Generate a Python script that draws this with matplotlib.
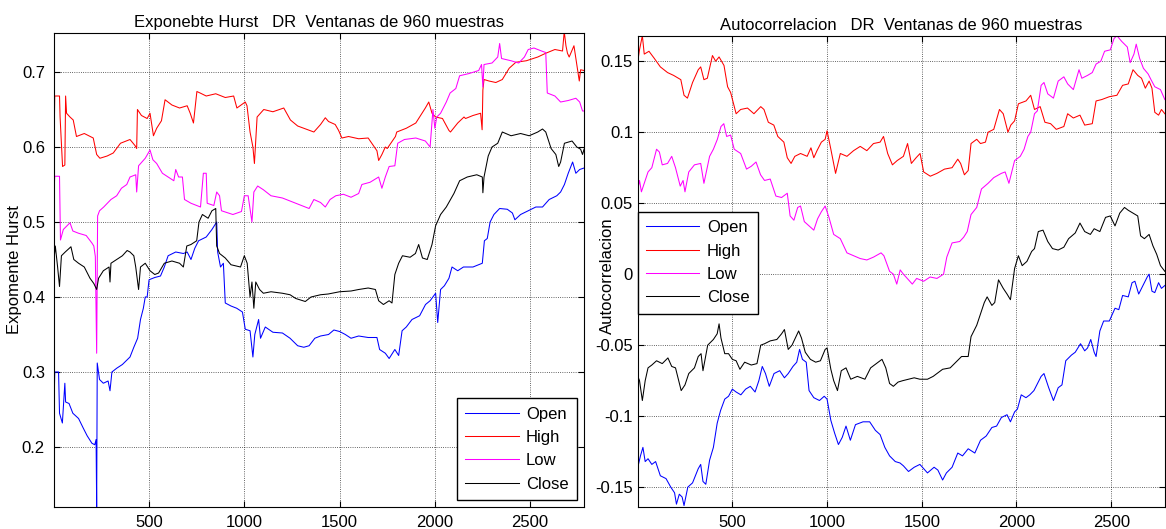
import matplotlib
matplotlib.use('Agg')
import matplotlib.pyplot as plt
from matplotlib.ticker import FuncFormatter

plt.rcParams['font.family'] = ['Liberation Sans', 'DejaVu Sans']
plt.rcParams['font.size'] = 12

# Exponente de Hurst (muestra, valor)
hurst_open = [(1, 0.25), (5, 0.30), (25, 0.30), (30, 0.245), (45, 0.232), (58, 0.285), (62, 0.26), (80, 0.258),
              (100, 0.245), (130, 0.238), (155, 0.225), (175, 0.215), (200, 0.205), (215, 0.203), (222, 0.21),
              (225, 0.12), (228, 0.312), (240, 0.29), (260, 0.285), (285, 0.288), (295, 0.275), (305, 0.30),
              (330, 0.305), (360, 0.31), (380, 0.315), (400, 0.32), (420, 0.333), (440, 0.345), (455, 0.37),
              (470, 0.385), (480, 0.40), (490, 0.40), (500, 0.423), (530, 0.426), (560, 0.428), (580, 0.44),
              (600, 0.455), (640, 0.46), (680, 0.458), (700, 0.46), (720, 0.45), (740, 0.465), (760, 0.475),
              (800, 0.48), (830, 0.49), (855, 0.50), (860, 0.46), (875, 0.44), (890, 0.445), (900, 0.392),
              (930, 0.388), (960, 0.385), (990, 0.38), (1005, 0.357), (1030, 0.355), (1045, 0.32), (1055, 0.35),
              (1075, 0.37), (1085, 0.345), (1110, 0.36), (1150, 0.353), (1200, 0.352), (1240, 0.345),
              (1280, 0.335), (1312, 0.333), (1340, 0.335), (1370, 0.345), (1400, 0.348), (1442, 0.35),
              (1470, 0.356), (1500, 0.354), (1530, 0.35), (1560, 0.345), (1600, 0.348), (1650, 0.346),
              (1696, 0.346), (1710, 0.33), (1740, 0.325), (1760, 0.318), (1790, 0.33), (1810, 0.322),
              (1828, 0.355), (1850, 0.36), (1880, 0.37), (1920, 0.375), (1951, 0.39), (1975, 0.395),
              (2004, 0.405), (2015, 0.366), (2030, 0.41), (2050, 0.415), (2074, 0.425), (2090, 0.44),
              (2120, 0.435), (2150, 0.44), (2200, 0.44), (2249, 0.445), (2260, 0.475), (2275, 0.478),
              (2290, 0.50), (2310, 0.51), (2340, 0.518), (2380, 0.517), (2407, 0.512), (2420, 0.503),
              (2450, 0.51), (2490, 0.515), (2530, 0.52), (2565, 0.52), (2600, 0.53), (2640, 0.535),
              (2660, 0.54), (2680, 0.55), (2700, 0.565), (2723, 0.58), (2740, 0.565), (2760, 0.57), (2783, 0.572)]

hurst_high = [(1, 0.60), (5, 0.668), (30, 0.668), (33, 0.64), (46, 0.574), (58, 0.576), (62, 0.668), (67, 0.645),
              (85, 0.64), (102, 0.636), (119, 0.614), (160, 0.618), (207, 0.612), (225, 0.59), (242, 0.585),
              (280, 0.588), (312, 0.592), (350, 0.605), (400, 0.61), (426, 0.602), (435, 0.598), (439, 0.65),
              (460, 0.642), (490, 0.638), (505, 0.645), (523, 0.615), (540, 0.625), (565, 0.635), (584, 0.663),
              (620, 0.656), (660, 0.652), (700, 0.655), (716, 0.645), (733, 0.632), (751, 0.674), (768, 0.672),
              (800, 0.668), (850, 0.671), (900, 0.666), (944, 0.668), (961, 0.652), (1005, 0.66), (1014, 0.655),
              (1030, 0.62), (1045, 0.60), (1053, 0.578), (1067, 0.64), (1102, 0.65), (1150, 0.647),
              (1207, 0.652), (1242, 0.636), (1280, 0.628), (1312, 0.625), (1365, 0.62), (1400, 0.63),
              (1425, 0.639), (1442, 0.634), (1477, 0.63), (1495, 0.622), (1512, 0.612), (1547, 0.614),
              (1600, 0.611), (1650, 0.612), (1696, 0.595), (1705, 0.582), (1722, 0.59), (1740, 0.60),
              (1750, 0.598), (1793, 0.614), (1800, 0.62), (1850, 0.625), (1900, 0.632), (1950, 0.652),
              (1968, 0.66), (1985, 0.645), (2004, 0.64), (2040, 0.638), (2074, 0.622), (2082, 0.62),
              (2120, 0.632), (2153, 0.64), (2161, 0.638), (2200, 0.642), (2240, 0.645), (2248, 0.623),
              (2252, 0.676), (2258, 0.69), (2284, 0.688), (2320, 0.686), (2354, 0.69), (2390, 0.705),
              (2425, 0.713), (2480, 0.715), (2540, 0.72), (2582, 0.725), (2630, 0.73), (2670, 0.728),
              (2679, 0.754), (2688, 0.735), (2696, 0.725), (2705, 0.72), (2730, 0.735), (2758, 0.688),
              (2765, 0.703), (2783, 0.702)]

hurst_low = [(1, 0.539), (5, 0.561), (30, 0.561), (35, 0.476), (50, 0.49), (85, 0.499), (100, 0.488), (130, 0.485),
             (170, 0.482), (200, 0.472), (210, 0.468), (218, 0.454), (225, 0.325), (230, 0.508), (240, 0.515),
             (262, 0.52), (300, 0.53), (330, 0.535), (355, 0.545), (383, 0.55), (400, 0.56), (430, 0.563),
             (435, 0.54), (445, 0.575), (480, 0.585), (505, 0.596), (520, 0.583), (540, 0.578), (570, 0.565),
             (600, 0.56), (630, 0.555), (640, 0.57), (655, 0.56), (675, 0.56), (686, 0.53), (720, 0.525),
             (770, 0.52), (785, 0.565), (800, 0.565), (805, 0.525), (840, 0.522), (855, 0.54), (870, 0.535),
             (880, 0.515), (940, 0.51), (985, 0.514), (1000, 0.535), (1020, 0.535), (1040, 0.50), (1050, 0.54),
             (1070, 0.548), (1100, 0.543), (1140, 0.535), (1200, 0.532), (1240, 0.528), (1300, 0.522),
             (1340, 0.518), (1365, 0.53), (1400, 0.526), (1425, 0.52), (1450, 0.53), (1480, 0.535),
             (1520, 0.537), (1560, 0.533), (1600, 0.538), (1617, 0.55), (1660, 0.553), (1705, 0.56),
             (1722, 0.545), (1740, 0.56), (1760, 0.574), (1790, 0.575), (1805, 0.605), (1840, 0.61),
             (1900, 0.612), (1950, 0.608), (1975, 0.60), (1990, 0.65), (2000, 0.625), (2010, 0.64),
             (2030, 0.645), (2060, 0.66), (2080, 0.672), (2110, 0.678), (2130, 0.695), (2180, 0.698),
             (2230, 0.702), (2245, 0.71), (2252, 0.68), (2258, 0.71), (2300, 0.712), (2330, 0.72),
             (2340, 0.738), (2350, 0.718), (2400, 0.715), (2440, 0.712), (2470, 0.72), (2490, 0.73),
             (2520, 0.732), (2560, 0.728), (2582, 0.726), (2590, 0.672), (2630, 0.668), (2660, 0.66),
             (2700, 0.662), (2740, 0.665), (2760, 0.66), (2775, 0.648), (2783, 0.648)]

hurst_close = [(1, 0.45), (8, 0.468), (20, 0.44), (30, 0.414), (40, 0.455), (60, 0.46), (90, 0.467), (105, 0.45),
               (130, 0.445), (160, 0.44), (190, 0.425), (210, 0.418), (225, 0.41), (235, 0.425), (260, 0.435),
               (290, 0.44), (295, 0.42), (300, 0.445), (330, 0.45), (360, 0.455), (385, 0.462), (400, 0.46),
               (420, 0.455), (430, 0.44), (445, 0.41), (455, 0.44), (480, 0.445), (505, 0.435), (530, 0.43),
               (550, 0.432), (580, 0.445), (620, 0.448), (660, 0.445), (680, 0.44), (698, 0.468), (720, 0.47),
               (750, 0.475), (762, 0.50), (780, 0.51), (810, 0.505), (830, 0.515), (850, 0.518), (855, 0.468),
               (870, 0.458), (900, 0.452), (930, 0.443), (980, 0.44), (1000, 0.455), (1015, 0.445), (1030, 0.40),
               (1040, 0.42), (1050, 0.385), (1060, 0.42), (1080, 0.41), (1100, 0.405), (1140, 0.407),
               (1200, 0.405), (1240, 0.403), (1270, 0.398), (1320, 0.394), (1350, 0.40), (1400, 0.403),
               (1440, 0.404), (1500, 0.407), (1560, 0.408), (1600, 0.41), (1650, 0.412), (1688, 0.41),
               (1705, 0.395), (1730, 0.39), (1760, 0.395), (1775, 0.392), (1790, 0.43), (1810, 0.445),
               (1830, 0.455), (1870, 0.453), (1898, 0.458), (1915, 0.47), (1935, 0.452), (1960, 0.45),
               (1985, 0.47), (2004, 0.495), (2030, 0.51), (2060, 0.52), (2100, 0.538), (2130, 0.555),
               (2170, 0.56), (2220, 0.563), (2249, 0.56), (2252, 0.539), (2258, 0.56), (2280, 0.588),
               (2300, 0.60), (2330, 0.605), (2354, 0.62), (2400, 0.615), (2450, 0.618), (2495, 0.615),
               (2540, 0.62), (2565, 0.624), (2582, 0.62), (2610, 0.598), (2635, 0.59), (2650, 0.574),
               (2660, 0.58), (2680, 0.605), (2720, 0.608), (2745, 0.60), (2765, 0.597), (2775, 0.59), (2783, 0.597)]

# Autocorrelacion (muestra, valor)
acf_open = [(1, -0.136), (15, -0.128), (28, -0.122), (40, -0.132), (55, -0.13), (75, -0.134), (95, -0.132),
            (120, -0.142), (150, -0.144), (175, -0.15), (195, -0.154), (205, -0.162), (220, -0.155), (235, -0.157),
            (245, -0.163), (265, -0.15), (290, -0.147), (320, -0.137), (333, -0.134), (345, -0.146), (360, -0.148),
            (380, -0.131), (400, -0.122), (420, -0.105), (438, -0.096), (460, -0.088), (480, -0.086),
            (500, -0.081), (520, -0.083), (545, -0.085), (570, -0.081), (595, -0.079), (620, -0.083),
            (640, -0.075), (658, -0.065), (675, -0.07), (695, -0.079), (720, -0.07), (750, -0.068),
            (775, -0.073), (795, -0.07), (820, -0.065), (840, -0.062), (855, -0.053), (870, -0.06),
            (890, -0.062), (905, -0.082), (930, -0.087), (960, -0.089), (985, -0.086), (1000, -0.088),
            (1020, -0.103), (1040, -0.112), (1060, -0.12), (1080, -0.115), (1100, -0.107), (1123, -0.117),
            (1150, -0.106), (1190, -0.104), (1225, -0.104), (1255, -0.11), (1280, -0.113), (1305, -0.122),
            (1330, -0.128), (1360, -0.132), (1385, -0.133), (1403, -0.135), (1430, -0.139), (1460, -0.136),
            (1490, -0.134), (1530, -0.14), (1565, -0.136), (1585, -0.138), (1610, -0.145), (1630, -0.14),
            (1660, -0.136), (1690, -0.126), (1715, -0.128), (1745, -0.123), (1780, -0.126), (1810, -0.117),
            (1840, -0.114), (1870, -0.108), (1895, -0.107), (1920, -0.101), (1950, -0.099), (1968, -0.104),
            (1990, -0.097), (2005, -0.095), (2025, -0.085), (2050, -0.087), (2070, -0.085), (2092, -0.082),
            (2130, -0.072), (2145, -0.07), (2170, -0.08), (2195, -0.089), (2220, -0.08), (2240, -0.078),
            (2260, -0.061), (2290, -0.057), (2310, -0.055), (2338, -0.049), (2360, -0.054), (2375, -0.052),
            (2392, -0.046), (2410, -0.055), (2420, -0.058), (2440, -0.04), (2460, -0.033), (2490, -0.033),
            (2520, -0.024), (2540, -0.025), (2560, -0.015), (2590, -0.016), (2610, -0.006), (2625, -0.005),
            (2645, -0.014), (2660, -0.01), (2690, -0.002), (2700, 0.0), (2715, -0.012), (2730, -0.013),
            (2750, -0.006), (2765, -0.01), (2783, -0.008)]

acf_high = [(1, 0.15), (10, 0.158), (25, 0.168), (35, 0.155), (60, 0.157), (88, 0.152), (120, 0.146), (158, 0.142),
            (190, 0.14), (228, 0.137), (245, 0.126), (263, 0.124), (290, 0.135), (320, 0.144), (333, 0.146),
            (350, 0.137), (368, 0.138), (395, 0.154), (412, 0.15), (430, 0.153), (456, 0.147), (475, 0.132),
            (491, 0.128), (520, 0.113), (544, 0.116), (580, 0.117), (614, 0.113), (650, 0.118), (667, 0.116),
            (690, 0.107), (719, 0.105), (740, 0.097), (772, 0.093), (790, 0.082), (810, 0.078), (830, 0.083),
            (860, 0.085), (895, 0.083), (915, 0.089), (930, 0.082), (947, 0.087), (970, 0.093), (990, 0.095),
            (1000, 0.101), (1020, 0.088), (1045, 0.071), (1070, 0.085), (1105, 0.083), (1140, 0.087),
            (1175, 0.09), (1210, 0.087), (1245, 0.092), (1280, 0.093), (1298, 0.097), (1320, 0.085),
            (1345, 0.077), (1370, 0.08), (1403, 0.083), (1425, 0.092), (1445, 0.078), (1470, 0.082),
            (1491, 0.085), (1510, 0.072), (1545, 0.069), (1580, 0.071), (1620, 0.074), (1660, 0.075),
            (1690, 0.081), (1705, 0.078), (1725, 0.07), (1745, 0.073), (1760, 0.092), (1790, 0.095),
            (1810, 0.092), (1836, 0.093), (1850, 0.10), (1880, 0.102), (1910, 0.116), (1930, 0.113),
            (1955, 0.10), (1970, 0.105), (1990, 0.108), (2010, 0.12), (2050, 0.122), (2075, 0.126),
            (2095, 0.116), (2125, 0.118), (2150, 0.107), (2180, 0.106), (2210, 0.102), (2250, 0.104),
            (2270, 0.113), (2300, 0.11), (2335, 0.112), (2360, 0.105), (2400, 0.106), (2420, 0.122),
            (2450, 0.123), (2490, 0.125), (2530, 0.126), (2560, 0.133), (2590, 0.134), (2615, 0.144),
            (2640, 0.14), (2660, 0.138), (2680, 0.131), (2700, 0.136), (2715, 0.131), (2730, 0.114),
            (2750, 0.112), (2765, 0.116), (2783, 0.113)]

acf_low = [(1, 0.06), (10, 0.066), (20, 0.058), (35, 0.064), (55, 0.072), (75, 0.075), (100, 0.088), (115, 0.086),
           (130, 0.077), (158, 0.078), (180, 0.083), (200, 0.075), (225, 0.062), (240, 0.066), (250, 0.058),
           (270, 0.072), (300, 0.077), (333, 0.078), (350, 0.064), (380, 0.083), (400, 0.088), (421, 0.095),
           (440, 0.104), (455, 0.106), (470, 0.097), (491, 0.098), (510, 0.088), (544, 0.085), (575, 0.074),
           (600, 0.076), (625, 0.079), (649, 0.07), (670, 0.066), (700, 0.067), (730, 0.055), (760, 0.054),
           (790, 0.057), (805, 0.041), (825, 0.038), (845, 0.047), (860, 0.048), (880, 0.037), (905, 0.034),
           (930, 0.031), (950, 0.039), (970, 0.044), (990, 0.048), (1010, 0.04), (1035, 0.028), (1070, 0.025),
           (1105, 0.015), (1140, 0.013), (1175, 0.011), (1210, 0.01), (1245, 0.012), (1285, 0.015),
           (1300, 0.013), (1330, 0.002), (1350, 0.0), (1368, -0.007), (1386, 0.003), (1403, 0.0),
           (1430, -0.004), (1450, -0.007), (1473, -0.003), (1510, -0.005), (1544, -0.002), (1580, -0.003),
           (1615, 0.0), (1632, 0.012), (1660, 0.022), (1700, 0.023), (1721, 0.026), (1740, 0.03), (1760, 0.042),
           (1790, 0.047), (1815, 0.06), (1850, 0.064), (1880, 0.068), (1920, 0.071), (1940, 0.072),
           (1960, 0.064), (1990, 0.08), (2020, 0.083), (2040, 0.088), (2060, 0.097), (2075, 0.10),
           (2095, 0.113), (2110, 0.115), (2130, 0.133), (2145, 0.135), (2165, 0.127), (2195, 0.124),
           (2220, 0.136), (2250, 0.139), (2270, 0.134), (2300, 0.13), (2330, 0.144), (2345, 0.138),
           (2375, 0.14), (2400, 0.142), (2420, 0.148), (2445, 0.15), (2465, 0.157), (2495, 0.158),
           (2515, 0.166), (2530, 0.168), (2555, 0.164), (2585, 0.16), (2600, 0.149), (2620, 0.155),
           (2632, 0.162), (2650, 0.152), (2670, 0.145), (2695, 0.141), (2710, 0.137), (2730, 0.132),
           (2760, 0.13), (2783, 0.123)]

acf_close = [(1, -0.072), (10, -0.075), (25, -0.089), (40, -0.075), (55, -0.066), (75, -0.064), (100, -0.061),
             (130, -0.063), (160, -0.059), (180, -0.065), (200, -0.066), (230, -0.082), (250, -0.078),
             (270, -0.07), (300, -0.066), (320, -0.058), (335, -0.056), (345, -0.068), (370, -0.05), (400, -0.046),
             (420, -0.042), (430, -0.035), (440, -0.045), (460, -0.056), (480, -0.056), (500, -0.06),
             (520, -0.061), (540, -0.067), (565, -0.062), (600, -0.064), (630, -0.063), (650, -0.05),
             (670, -0.049), (700, -0.047), (735, -0.046), (760, -0.042), (775, -0.039), (795, -0.053),
             (815, -0.05), (850, -0.04), (865, -0.045), (885, -0.055), (912, -0.06), (940, -0.062),
             (965, -0.061), (990, -0.053), (1000, -0.052), (1020, -0.067), (1035, -0.075), (1055, -0.082),
             (1075, -0.068), (1100, -0.066), (1125, -0.074), (1160, -0.072), (1200, -0.074), (1230, -0.066),
             (1260, -0.063), (1290, -0.06), (1310, -0.066), (1330, -0.077), (1350, -0.079), (1375, -0.076),
             (1400, -0.075), (1430, -0.074), (1460, -0.073), (1490, -0.074), (1530, -0.074), (1560, -0.072),
             (1580, -0.07), (1610, -0.067), (1650, -0.066), (1680, -0.062), (1710, -0.058), (1745, -0.058),
             (1760, -0.044), (1790, -0.036), (1810, -0.028), (1830, -0.02), (1845, -0.016), (1870, -0.022),
             (1885, -0.02), (1905, -0.004), (1930, -0.01), (1950, -0.014), (1968, -0.018), (1990, 0.004),
             (2010, 0.013), (2030, 0.006), (2055, 0.009), (2080, 0.016), (2095, 0.018), (2115, 0.03),
             (2140, 0.031), (2165, 0.023), (2190, 0.018), (2220, 0.017), (2250, 0.019), (2275, 0.025),
             (2310, 0.029), (2335, 0.036), (2360, 0.03), (2390, 0.028), (2410, 0.032), (2440, 0.03),
             (2470, 0.04), (2495, 0.041), (2520, 0.034), (2545, 0.043), (2570, 0.047), (2590, 0.045),
             (2615, 0.043), (2640, 0.041), (2655, 0.027), (2675, 0.025), (2700, 0.028), (2720, 0.02),
             (2740, 0.014), (2760, 0.006), (2783, 0.002)]

series_names = ['Open', 'High', 'Low', 'Close']
colors = ['#0000ff', '#ff0000', '#ff00ff', '#000000']
x_max = 2783


def estilo(ax, ylim, ypad):
    ax.set_xlim(1, x_max)
    ax.set_ylim(*ylim)
    ax.set_xticks([500, 1000, 1500, 2000, 2500])
    ax.grid(True, ls=':', color='k', lw=0.6, alpha=0.8)
    ax.tick_params(direction='in', top=True, right=True, length=4, labelsize=12)
    ax.tick_params(axis='x', pad=6)
    ax.tick_params(axis='y', pad=ypad)
    ax.yaxis.set_major_formatter(FuncFormatter(lambda v, p: '%g' % round(v, 4)))
    for s in ax.spines.values():
        s.set_linewidth(0.8)


fig = plt.figure(figsize=(11.66, 5.29), dpi=100)

ax1 = fig.add_axes([0.0463, 0.0416, 0.4546, 0.896])
for data, name, c in zip([hurst_open, hurst_high, hurst_low, hurst_close], series_names, colors):
    xs, ys = zip(*data)
    ax1.plot(xs, ys, color=c, lw=0.75, label=name)
estilo(ax1, (0.12, 0.752), 6.5)
ax1.set_yticks([0.2, 0.3, 0.4, 0.5, 0.6, 0.7])
ax1.set_title('Exponebte Hurst   DR  Ventanas de 960 muestras', fontsize=12, pad=4)
ax1.set_ylabel('Expomente Hurst', fontsize=12)
ax1.yaxis.set_label_coords(-0.06, 0.5)
ax1.legend(loc='lower right', fancybox=False, edgecolor='k', framealpha=1, handlelength=3.2,
           handletextpad=0.45, borderpad=0.5, borderaxespad=0.42, fontsize=12, labelspacing=0.5)

ax2 = fig.add_axes([0.547, 0.0416, 0.452, 0.891])
for data, name, c in zip([acf_open, acf_high, acf_low, acf_close], series_names, colors):
    xs, ys = zip(*data)
    ax2.plot(xs, ys, color=c, lw=0.75, label=name)
estilo(ax2, (-0.164, 0.168), 3.5)
ax2.set_yticks([-0.15, -0.1, -0.05, 0, 0.05, 0.1, 0.15])
ax2.set_title('Autocorrelacion   DR  Ventanas de 960 muestras', fontsize=12, pad=4)
ax2.set_ylabel('Autocorrelacion', fontsize=12)
ax2.yaxis.set_label_coords(-0.044, 0.49)
ax2.legend(loc='upper left', bbox_to_anchor=(0.0, 0.626), fancybox=False, edgecolor='k', framealpha=1,
           handlelength=3.2, handletextpad=0.45, borderpad=0.5, borderaxespad=0.0, fontsize=12,
           labelspacing=0.5)

fig.savefig('out.png', dpi=100)
